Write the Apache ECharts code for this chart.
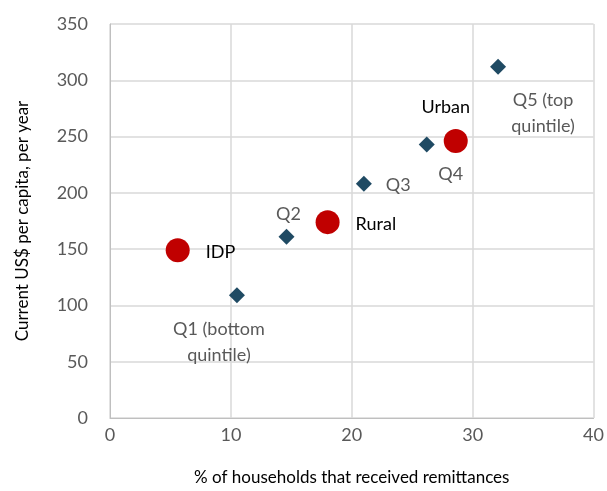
<!DOCTYPE html>
<html>
<head>
<meta charset="utf-8">
<script src="https://cdn.jsdelivr.net/npm/echarts@6/dist/echarts.min.js"></script>
<style>
  html, body { margin: 0; padding: 0; background: #fff; }
  #chart { width: 607px; height: 491px; }
</style>
</head>
<body>
<div id="chart"></div>
<script>
// quintiles (diamonds)
var quintileNames = ["Q1 (bottom\nquintile)", "Q2", "Q3", "Q4", "Q5 (top\nquintile)"];
var quintileX = [10.5, 14.6, 21.0, 26.2, 32.1];
var quintileY = [109, 161, 208, 243, 312];

// groups (circles)
var groupNames = ["IDP", "Rural", "Urban"];
var groupX = [5.6, 18.0, 28.6];
var groupY = [149, 174, 246];

var xTicks = [0, 10, 20, 30, 40];
var yTicks = [0, 50, 100, 150, 200, 250, 300, 350];

var FONT = "Lato";
var grey = "#595959";

// label placement per point
var quintileLabelPos = [
  { position: "bottom", distance: 13, align: "center", offset: [-18, 0] },
  { position: "top", distance: 2, offset: [2, 0] },
  { position: "right", distance: 14, offset: [0, 1] },
  { position: "bottom", distance: 9, offset: [24, 0] },
  { position: "bottom", distance: 12, offset: [45, 0] }
];
var groupLabelPos = [
  { position: "right", distance: 16, offset: [0, 2] },
  { position: "right", distance: 16, offset: [0, 2] },
  { position: "top", distance: 13, offset: [-10, 0] }
];

function buildData(xs, ys, names, pos) {
  return xs.map(function (x, i) {
    return {
      name: names[i],
      value: [x, ys[i]],
      label: Object.assign({ show: true, formatter: "{b}" }, pos[i])
    };
  });
}

var chart = echarts.init(document.getElementById("chart"));
chart.setOption({
  animation: false,
  textStyle: { fontFamily: FONT },
  grid: { left: 110, right: 10, top: 24, bottom: 66 },
  xAxis: {
    type: "value",
    min: 0, max: 40, interval: 10,
    name: "% of households that received remittances",
    nameLocation: "middle",
    nameGap: 51,
    nameTextStyle: { fontSize: 17, color: "#000", fontFamily: FONT },
    axisLine: { show: true, lineStyle: { color: "#bfbfbf", width: 1 } },
    axisTick: { show: false },
    axisLabel: { fontSize: 18, color: grey, margin: 8, fontFamily: FONT },
    splitLine: { show: true, lineStyle: { color: "#d9d9d9", width: 1.5 } }
  },
  yAxis: {
    type: "value",
    min: 0, max: 350, interval: 50,
    name: "Current US$ per capita, per year",
    nameLocation: "middle",
    nameGap: 79,
    nameTextStyle: { fontSize: 17, color: "#000", fontFamily: FONT },
    axisLine: { show: true, lineStyle: { color: "#bfbfbf", width: 1 } },
    axisTick: { show: false },
    axisLabel: { fontSize: 18, color: grey, margin: 22, fontFamily: FONT },
    splitLine: { show: true, lineStyle: { color: "#d9d9d9", width: 1.5 } }
  },
  series: [
    {
      type: "scatter",
      symbol: "diamond",
      symbolSize: 16,
      itemStyle: { color: "#1f4a63", opacity: 1 },
      label: { fontSize: 18, color: grey, lineHeight: 26, fontFamily: FONT },
      data: buildData(quintileX, quintileY, quintileNames, quintileLabelPos)
    },
    {
      type: "scatter",
      symbol: "circle",
      symbolSize: 24,
      itemStyle: { color: "#c00000", opacity: 1 },
      label: { fontSize: 18, color: "#000", fontFamily: FONT },
      data: buildData(groupX, groupY, groupNames, groupLabelPos)
    }
  ]
});
</script>
</body>
</html>
